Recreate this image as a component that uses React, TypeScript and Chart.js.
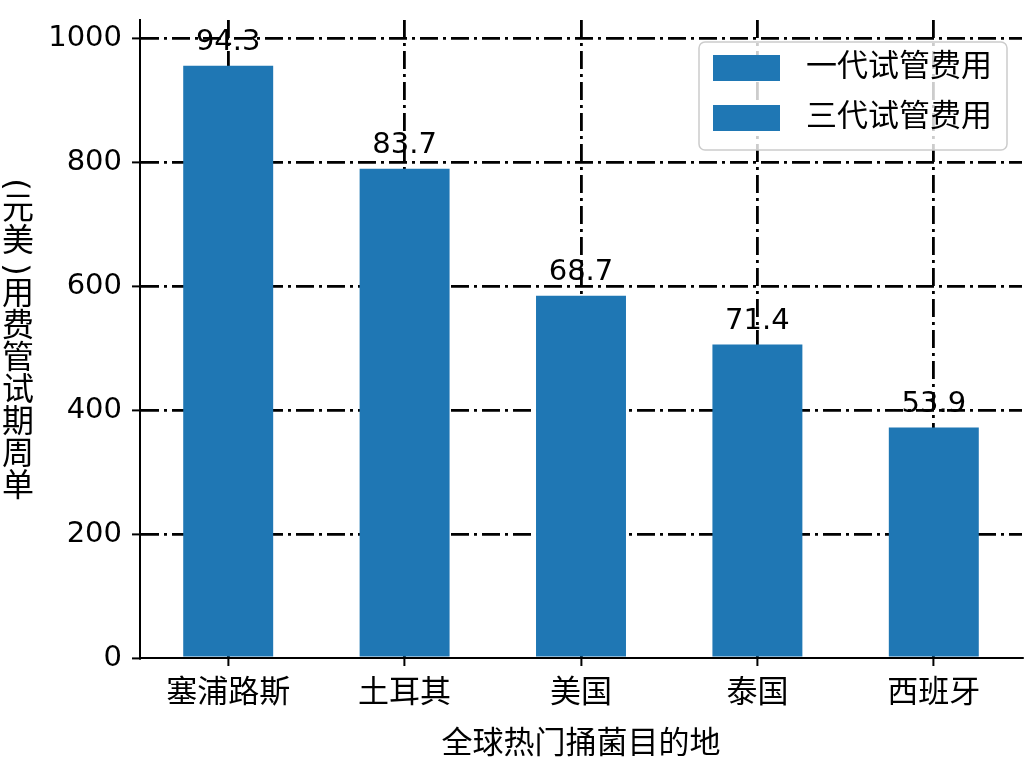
import { useEffect, useRef } from "react";
import { Chart, registerables, Plugin } from "chart.js";

Chart.register(...registerables);

const countries = ["塞浦路斯", "土耳其", "美国", "泰国", "西班牙"];
const firstGenCost = [956, 790, 585, 506, 372];
const thirdGenCost: number[] = [];
const barLabels = ["94.3", "83.7", "68.7", "71.4", "53.9"];
const seriesNames = ["一代试管费用", "三代试管费用"];
const yTicks = [0, 200, 400, 600, 800, 1000];

const xTitle = "全球热门捅菌目的地";
const yTitle = "单周期试管费用(美元)";

const BLUE = "#1f77b4";
const FONT = "'DejaVu Sans', 'Noto Sans CJK SC', sans-serif";
const GRID_DASH = [18, 5, 3, 5];

// numbers above the bars
const barLabelPlugin: Plugin<"bar"> = {
  id: "barLabels",
  afterDraw(chart) {
    const ctx = chart.ctx;
    const meta = chart.getDatasetMeta(0);
    ctx.save();
    ctx.fillStyle = "#000";
    ctx.font = `29px ${FONT}`;
    ctx.textAlign = "center";
    ctx.textBaseline = "alphabetic";
    meta.data.forEach((bar, i) => {
      ctx.fillText(barLabels[i], bar.x, bar.y - 16);
    });
    ctx.restore();
  },
};

// vertical y title, CJK glyphs upright, brackets turned
const yTitlePlugin: Plugin<"bar"> = {
  id: "yTitle",
  afterDraw(chart) {
    const ctx = chart.ctx;
    const area = chart.chartArea;
    ctx.save();
    ctx.font = `32px ${FONT}`;
    ctx.fillStyle = "#000";
    ctx.textAlign = "center";
    ctx.textBaseline = "middle";
    const chars = Array.from(yTitle);
    const isBracket = (c: string) => c === "(" || c === ")";
    const adv = chars.map((c) => (isBracket(c) ? 21 : 32));
    const total = adv.reduce((a, b) => a + b, 0);
    const cx = 18;
    let y = (area.top + area.bottom) / 2 + total / 2;
    chars.forEach((c, i) => {
      const mid = y - adv[i] / 2;
      ctx.save();
      ctx.translate(cx, mid);
      if (isBracket(c)) ctx.rotate(-Math.PI / 2);
      ctx.fillText(c, 0, 0);
      ctx.restore();
      y -= adv[i];
    });
    ctx.restore();
  },
};

// legend box in the upper right of the plot
const legendPlugin: Plugin<"bar"> = {
  id: "innerLegend",
  afterDraw(chart) {
    const ctx = chart.ctx;
    const area = chart.chartArea;
    const w = 308;
    const h = 108;
    const x = area.right - 15 - w;
    const y = area.top + 22;
    ctx.save();
    ctx.beginPath();
    ctx.roundRect(x, y, w, h, 6);
    ctx.fillStyle = "rgba(255,255,255,0.8)";
    ctx.fill();
    ctx.strokeStyle = "#cccccc";
    ctx.lineWidth = 1.5;
    ctx.stroke();
    ctx.font = `31px ${FONT}`;
    ctx.textBaseline = "middle";
    ctx.textAlign = "left";
    chart.data.datasets.forEach((ds, i) => {
      const cy = y + 26 + i * 50;
      ctx.fillStyle = ds.backgroundColor as string;
      ctx.fillRect(x + 14, cy - 13, 67, 26);
      ctx.fillStyle = "#000";
      ctx.fillText(ds.label ?? "", x + 107, cy);
    });
    ctx.restore();
  },
};

export default function App() {
  const canvasRef = useRef<HTMLCanvasElement | null>(null);

  useEffect(() => {
    document.body.style.margin = "0";
    if (!canvasRef.current) return;

    const chart = new Chart(canvasRef.current, {
      type: "bar",
      data: {
        labels: countries,
        datasets: [
          {
            label: seriesNames[0],
            data: firstGenCost,
            backgroundColor: BLUE,
            barPercentage: 0.51,
            categoryPercentage: 1,
            grouped: false,
          },
          {
            label: seriesNames[1],
            data: thirdGenCost,
            backgroundColor: BLUE,
            barPercentage: 0.51,
            categoryPercentage: 1,
            grouped: false,
          },
        ],
      },
      options: {
        responsive: true,
        maintainAspectRatio: false,
        animation: false,
        layout: {
          padding: { top: 20, right: 2, left: 0, bottom: 0 },
        },
        plugins: {
          legend: { display: false },
          tooltip: { enabled: false },
        },
        scales: {
          x: {
            z: 1,
            grid: {
              offset: false,
              color: "#000",
              lineWidth: 2.8,
              drawTicks: true,
              tickLength: 8,
              tickColor: "#000",
              tickWidth: 2,
              tickBorderDash: [],
            },
            border: { display: true, color: "#000", width: 2, dash: GRID_DASH },
            ticks: {
              color: "#000",
              padding: 9,
              font: { size: 31, family: FONT },
            },
            title: {
              display: true,
              text: xTitle,
              color: "#000",
              padding: { top: 0, bottom: 4 },
              font: { size: 31, family: FONT },
            },
            afterFit: (scale) => {
              scale.height = 110;
            },
          },
          y: {
            z: 1,
            min: 0,
            max: 1030,
            afterBuildTicks: (scale) => {
              scale.ticks = yTicks.map((v) => ({ value: v }));
            },
            grid: {
              color: (c) => (c.tick && c.tick.value === 0 ? "rgba(0,0,0,0)" : "#000"),
              lineWidth: 2.8,
              drawTicks: true,
              tickLength: 8,
              tickColor: "#000",
              tickWidth: 2,
              tickBorderDash: [],
            },
            border: { display: true, color: "#000", width: 2, dash: GRID_DASH },
            ticks: {
              color: "#000",
              padding: 10,
              font: { size: 29, family: FONT },
              callback: (value) => String(value),
            },
            title: { display: false },
            afterFit: (scale) => {
              scale.width = 140;
              scale.paddingTop = 0;
              scale.paddingBottom = 0;
            },
          },
        },
      },
      plugins: [barLabelPlugin, yTitlePlugin, legendPlugin],
    });

    return () => {
      chart.destroy();
    };
  }, []);

  return (
    <div style={{ width: "1024px", height: "768px", position: "relative", background: "#fff" }}>
      <canvas ref={canvasRef}></canvas>
    </div>
  );
}
